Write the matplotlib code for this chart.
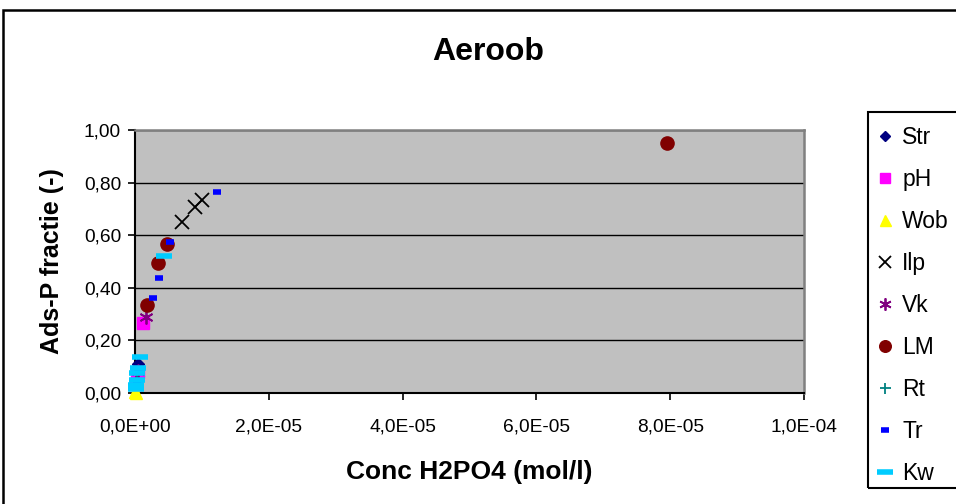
import numpy as np
import matplotlib
matplotlib.use('Agg')
import matplotlib.pyplot as plt
from matplotlib.ticker import FuncFormatter, MultipleLocator
from matplotlib.patches import Rectangle

plt.rcParams['font.family'] = ['Liberation Sans', 'DejaVu Sans']

# adsorption data per sample: H2PO4 concentration (mol/l) vs adsorbed P fraction
str_x = [0.5e-6, 0.3e-6, 0.2e-6]
str_y = [0.11, 0.07, 0.04]
ph_x = [1.2e-6, 0.4e-6, 0.3e-6, 0.2e-6]
ph_y = [0.265, 0.08, 0.07, 0.035]
wob_x = [0.1e-6, 0.05e-6]
wob_y = [0.0, 0.005]
ilp_x = [7.0e-6, 9.0e-6, 10.0e-6]
ilp_y = [0.651, 0.706, 0.733]
vk_x = [1.6e-6, 0.4e-6, 0.2e-6]
vk_y = [0.29, 0.085, 0.04]
lm_x = [79.5e-6, 4.8e-6, 3.4e-6, 1.75e-6]
lm_y = [0.95, 0.567, 0.494, 0.335]
rt_x = [0.3e-6, 0.2e-6]
rt_y = [0.075, 0.035]
tr_x = [12.2e-6, 5.3e-6, 3.6e-6, 2.7e-6, 0.4e-6, 0.3e-6]
tr_y = [0.763, 0.574, 0.437, 0.361, 0.08, 0.04]
kw_x = [4.3e-6, 0.8e-6, 0.4e-6, 0.3e-6, 0.3e-6, 0.2e-6, 0.2e-6]
kw_y = [0.52, 0.137, 0.095, 0.075, 0.05, 0.03, 0.015]

series = [
    ('Str', str_x, str_y, dict(marker='D', color='#000080', ms=6)),
    ('pH', ph_x, ph_y, dict(marker='s', color='#FF00FF', ms=8)),
    ('Wob', wob_x, wob_y, dict(marker='^', color='#FFFF00', ms=9)),
    ('Ilp', ilp_x, ilp_y, dict(marker='x', color='black', ms=10, mew=1.3)),
    ('Vk', vk_x, vk_y, dict(marker=(6, 2, 0), color='#800080', ms=10, mew=1.3)),
    ('LM', lm_x, lm_y, dict(marker='o', color='#800000', ms=9.5)),
    ('Rt', rt_x, rt_y, dict(marker='+', color='#008080', ms=9, mew=1.3)),
    ('Tr', tr_x, tr_y, dict(marker='_', color='#0000FF', ms=6, mew=4)),
    ('Kw', kw_x, kw_y, dict(marker='_', color='#00CCFF', ms=11, mew=4)),
]

fig = plt.figure(figsize=(9.56, 5.04), dpi=100)
ax = fig.add_axes([135/956, 1-393/504, (804-135)/956, (393-130)/504])
ax.set_facecolor('#C0C0C0')

handles = []
for name, xs, ys, st in series:
    h, = ax.plot(xs, ys, linestyle='none', label=name, clip_on=False, zorder=3, **st)
    handles.append(h)

ax.set_xlim(0, 1e-4)
ax.set_ylim(0, 1)
ax.xaxis.set_major_locator(MultipleLocator(2e-5))
ax.yaxis.set_major_locator(MultipleLocator(0.2))
ax.xaxis.set_major_formatter(FuncFormatter(lambda v, p: ('%.1E' % v).replace('.', ',')))
ax.yaxis.set_major_formatter(FuncFormatter(lambda v, p: ('%.2f' % v).replace('.', ',')))
ax.grid(axis='y', color='black', linewidth=1)
ax.set_axisbelow(True)
ax.tick_params(direction='out', length=5, width=1.2, labelsize=13.8)
ax.tick_params(axis='x', pad=13)
ax.tick_params(axis='y', pad=5)

for s in ['top', 'right']:
    ax.spines[s].set_color('#808080')
    ax.spines[s].set_linewidth(1.8)
for s in ['left', 'bottom']:
    ax.spines[s].set_linewidth(1.5)

ax.set_xlabel('Conc H2PO4 (mol/l)', fontsize=19, fontweight='bold', labelpad=18)
ax.set_ylabel('Ads-P fractie (-)', fontsize=18, fontweight='bold', labelpad=14)
fig.text(488/956, 1-52/504, 'Aeroob', ha='center', va='center', fontsize=23, fontweight='bold')

# outer chart frame and legend box, both running off the right edge
fig.add_artist(Rectangle((3/956, -0.1), 1.2, 1.1-10/504, transform=fig.transFigure,
                         fill=False, edgecolor='black', linewidth=1.8))
fig.add_artist(Rectangle((868/956, 1-488/504), 0.2, (488-112)/504, transform=fig.transFigure,
                         fill=False, edgecolor='black', linewidth=1.5))
leg = fig.legend(handles=handles, loc='upper left', bbox_to_anchor=(876/956, 1-126/504),
                 frameon=False, fontsize=16.5, labelspacing=0.83, handlelength=0.8,
                 handletextpad=0.35, borderaxespad=0, borderpad=0)
for lh, (name, xs, ys, st) in zip(leg.legend_handles, series):
    if st['marker'] != '_':
        lh.set_markersize(st['ms'] * 0.88)

fig.savefig('out.png', dpi=100)
